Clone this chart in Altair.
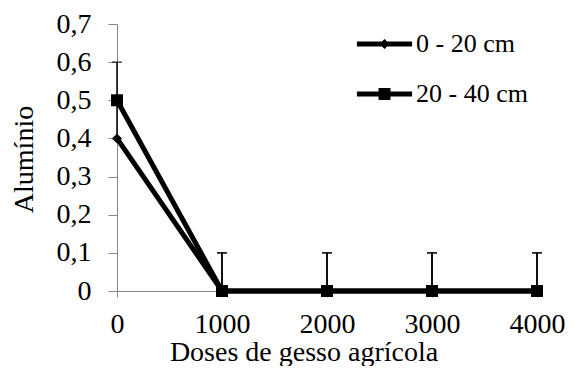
import altair as alt
import pandas as pd

doses = [0, 1000, 2000, 3000, 4000]
series_names = ["0 - 20 cm", "20 - 40 cm"]
al_0_20 = [0.4, 0.0, 0.0, 0.0, 0.0]
al_20_40 = [0.5, 0.0, 0.0, 0.0, 0.0]
err_0_20 = [0.1, 0.1, 0.1, 0.1, 0.1]
err_20_40 = [0.1, 0.1, 0.1, 0.1, 0.1]
y_ticks = [0, 0.1, 0.2, 0.3, 0.4, 0.5, 0.6, 0.7]

rows = []
for name, vals, errs in [(series_names[0], al_0_20, err_0_20), (series_names[1], al_20_40, err_20_40)]:
    for d, v, e in zip(doses, vals, errs):
        rows.append({"dose": d, "al": v, "hi": v + e, "serie": name})
df = pd.DataFrame(rows)

FONT = "Liberation Serif"
GRAY = "#868686"

x_axis = alt.Axis(values=doses, format="d", title="Doses de gesso agrícola",
                  titleX=186.5, titleY=69, titleAlign="center", titleBaseline="alphabetic",
                  labelFlush=False, tickSize=6, labelPadding=13, labelOverlap=False)
y_axis = alt.Axis(values=y_ticks, title="Alumínio",
                  labelExpr="datum.value == 0 ? '0' : replace(format(datum.value, '.1f'), '.', ',')",
                  tickSize=9, labelPadding=17, labelOverlap=False,
                  titleX=-85, titleY=135, titleAlign="center", titleBaseline="alphabetic")
x_scale = alt.Scale(domain=[0, 4000], nice=False)
y_scale = alt.Scale(domain=[0, 0.7], nice=False)

base = alt.Chart(df).encode(
    x=alt.X("dose:Q", scale=x_scale, axis=x_axis),
    y=alt.Y("al:Q", scale=y_scale, axis=y_axis),
)

err_rules = base.mark_rule(color="black", strokeWidth=1.5).encode(y2="hi:Q", detail="serie:N")
err_caps = base.mark_tick(color="black", orient="horizontal", size=10, thickness=1.5).encode(
    y=alt.Y("hi:Q", scale=y_scale, axis=y_axis), detail="serie:N")

line_a = base.transform_filter(alt.datum.serie == series_names[0]).mark_line(
    color="black", strokeWidth=5)
line_b = base.transform_filter(alt.datum.serie == series_names[1]).mark_line(
    color="black", strokeWidth=5)
pts_a = base.transform_filter(alt.datum.serie == series_names[0]).mark_point(
    filled=True, opacity=1, color="black", shape="diamond", size=100)
pts_b = base.transform_filter(alt.datum.serie == series_names[1]).mark_point(
    filled=True, opacity=1, color="black", shape="square", size=144)

path_diamond = "M-1.2,-0.11L1.2,-0.11L1.2,0.11L-1.2,0.11Z M0,-0.22L0.22,0L0,0.22L-0.22,0Z"
path_square = "M-1.2,-0.11L1.2,-0.11L1.2,0.11L-1.2,0.11Z M-0.26,-0.26L0.26,-0.26L0.26,0.26L-0.26,0.26Z"

legend_df = pd.DataFrame({"serie": series_names})
legend_layer = alt.Chart(legend_df).mark_point(
    filled=True, opacity=1, color="black", clip=True).encode(
    x=alt.value(-60), y=alt.value(-60),
    shape=alt.Shape("serie:N", scale=alt.Scale(domain=series_names, range=[path_diamond, path_square]),
                    legend=alt.Legend(title=None, orient="none", legendX=244.5, legendY=-3,
                                      symbolSize=2116, symbolFillColor="black",
                                      symbolStrokeColor="black", symbolStrokeWidth=0,
                                      symbolOpacity=1, labelOffset=8.5, rowPadding=14,
                                      padding=0, labelLimit=300)))

chart = alt.layer(err_rules, err_caps, line_a, line_b, pts_a, pts_b, legend_layer).properties(
    width=420, height=267,
    autosize=alt.AutoSizeParams(type="none"),
    padding={"left": 109, "top": 16, "right": 28, "bottom": 75},
).configure(font=FONT).configure_view(stroke=None).configure_axis(
    grid=False, domainColor=GRAY, tickColor=GRAY, labelOverlap=False,
    labelFont=FONT, labelFontSize=28, labelColor="black",
    titleFont=FONT, titleFontSize=28, titleFontWeight="normal", titleColor="black",
).configure_legend(labelFont=FONT, labelFontSize=26, labelColor="black")

chart.save("out.html", embed_options={"renderer": "svg", "actions": False})
